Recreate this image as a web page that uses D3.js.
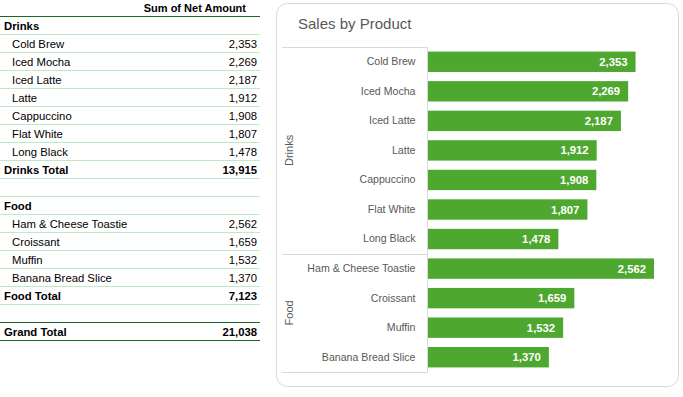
<!doctype html>
<html lang="en">
<head>
  <meta charset="utf-8">
  <title>Sales by Product</title>
  <script src="https://d3js.org/d3.v7.min.js"></script>
  <style>
  body { margin: 0; background: #fff; }
  text { font-family: "Liberation Sans Narrow", "Arial Narrow", "Liberation Sans", sans-serif; }
  </style>
</head>
<body>
<script>
  var groups = ["Drinks", "Food"]
  var drinksProducts = ["Cold Brew", "Iced Mocha", "Iced Latte", "Latte", "Cappuccino", "Flat White", "Long Black"]
  var drinksValues = [2353, 2269, 2187, 1912, 1908, 1807, 1478]
  var foodProducts = ["Ham & Cheese Toastie", "Croissant", "Muffin", "Banana Bread Slice"]
  var foodValues = [2562, 1659, 1532, 1370]
  var groupTotals = [13915, 7123]
  var grandTotal = 21038

  var W = 683, H = 397
  var fmt = d3.format(",")
  var svg = d3.select("body").append("svg")
      .attr("width", W).attr("height", H)

  // ---------- pivot table ----------
  var rowH = 18, tableW = 260
  var lightLine = "#bfe8c4", darkLine = "#196b24"
  var tbl = svg.append("g")

  // build rows list
  var rows = []
  rows.push({type: "group", label: "Drinks"})
  drinksProducts.forEach(function(p, i){ rows.push({type: "item", label: p, value: drinksValues[i]}) })
  rows.push({type: "total", label: "Drinks Total", value: groupTotals[0]})
  rows.push({type: "blank"})
  rows.push({type: "group", label: "Food"})
  foodProducts.forEach(function(p, i){ rows.push({type: "item", label: p, value: foodValues[i]}) })
  rows.push({type: "total", label: "Food Total", value: groupTotals[1]})
  rows.push({type: "blank"})
  rows.push({type: "grand", label: "Grand Total", value: grandTotal})

  var top0 = 16.5
  tbl.append("text").attr("x", 246).attr("y", 12)
      .attr("text-anchor", "end").attr("font-size", 11).attr("font-weight", "bold")
      .attr("fill", "#000").text("Sum of Net Amount")
  tbl.append("line").attr("x1", 0).attr("x2", tableW).attr("y1", top0).attr("y2", top0)
      .attr("stroke", darkLine).attr("stroke-width", 1.2)

  rows.forEach(function(r, i){
    var y0 = top0 + i * rowH, y1 = y0 + rowH
    var bold = r.type != "item"
    if (r.label) {
      tbl.append("text").attr("x", r.type == "item" ? 12 : 4).attr("y", y1 - 5)
          .attr("font-size", 11.3).attr("font-weight", bold ? "bold" : "normal")
          .attr("fill", "#000").text(r.label)
    }
    if (r.value != null) {
      tbl.append("text").attr("x", 257).attr("y", y1 - 5).attr("text-anchor", "end")
          .attr("font-size", 11.3).attr("font-weight", bold ? "bold" : "normal")
          .attr("fill", "#000").text(fmt(r.value))
    }
    var isDark = r.type == "grand" || (rows[i+1] && rows[i+1].type == "grand")
    tbl.append("line").attr("x1", 0).attr("x2", tableW).attr("y1", y1).attr("y2", y1)
        .attr("stroke", isDark ? darkLine : lightLine).attr("stroke-width", isDark ? 1.2 : 1)
  })

  // ---------- chart ----------
  svg.append("rect").attr("x", 276.5).attr("y", 3.5).attr("width", 402).attr("height", 383)
      .attr("rx", 11).attr("fill", "#fff").attr("stroke", "#d9d9d9")
  svg.append("text").attr("x", 298).attr("y", 29).attr("font-size", 15)
      .attr("fill", "#595959").text("Sales by Product")

  var categories = drinksProducts.concat(foodProducts)
  var values = drinksValues.concat(foodValues)

  var plotTop = 47, plotBottom = 372, axisX = 427.5, boxLeft = 282
  var y = d3.scaleBand().domain(categories).range([plotTop, plotBottom]).paddingInner(0.31).paddingOuter(0.155)
  var x = d3.scaleLinear().domain([0, 2800]).range([428, 428 + 247])

  var chart = svg.append("g")
  chart.selectAll(".bar").data(categories).enter().append("rect")
      .attr("class", "bar")
      .attr("x", x(0))
      .attr("y", function(d){ return y(d) })
      .attr("width", function(d, i){ return x(values[i]) - x(0) })
      .attr("height", y.bandwidth())
      .attr("fill", "#4ea72e")

  chart.selectAll(".lbl").data(categories).enter().append("text")
      .attr("class", "lbl")
      .attr("x", function(d, i){ return x(values[i]) - 8 })
      .attr("y", function(d){ return y(d) + y.bandwidth() / 2 + 4 })
      .attr("text-anchor", "end").attr("font-size", 11.3).attr("font-weight", "bold")
      .attr("fill", "#fff")
      .text(function(d, i){ return fmt(values[i]) })

  // category axis
  var yAxis = chart.append("g").attr("transform", "translate(" + axisX + ",0)")
      .call(d3.axisLeft(y).tickSize(0).tickPadding(12))
  yAxis.select(".domain").remove()
  yAxis.selectAll("text").attr("font-size", 10.6).attr("fill", "#595959")
      .attr("font-family", "Liberation Sans Narrow, Arial Narrow, Liberation Sans, sans-serif")

  // axis frame lines
  var gridCol = "#d9d9d9"
  var sepY = (y(foodProducts[0]) + y(drinksProducts[drinksProducts.length - 1]) + y.bandwidth()) / 2
  chart.append("line").attr("x1", axisX).attr("x2", axisX).attr("y1", plotTop).attr("y2", plotBottom).attr("stroke", gridCol)
  ;[plotTop, sepY, plotBottom].forEach(function(yy){
    chart.append("line").attr("x1", boxLeft).attr("x2", axisX).attr("y1", Math.round(yy) + 0.5).attr("y2", Math.round(yy) + 0.5).attr("stroke", gridCol)
  })

  // group labels
  var groupRanges = [[plotTop, sepY], [sepY, plotBottom]]
  groups.forEach(function(g, i){
    var cy = (groupRanges[i][0] + groupRanges[i][1]) / 2
    chart.append("text").attr("transform", "translate(293," + cy + ") rotate(-90)")
        .attr("text-anchor", "middle").attr("font-size", 11).attr("fill", "#595959").text(g)
  })
</script>
</body>
</html>
